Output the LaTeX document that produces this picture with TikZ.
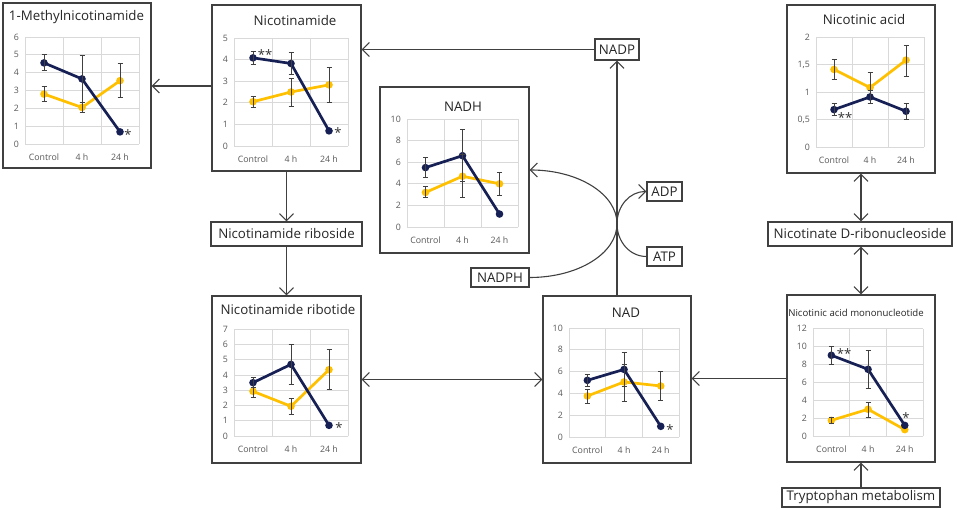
\documentclass[tikz,border=0pt]{standalone}
\usepackage{fontspec}
\setmainfont{Open Sans}
\usetikzlibrary{arrows.meta}
\definecolor{navy}{HTML}{172054}
\definecolor{gold}{HTML}{FFC000}
\definecolor{gridc}{HTML}{D9D9D9}
\definecolor{axisc}{HTML}{595959}
\definecolor{framec}{HTML}{404040}
\definecolor{errc}{HTML}{404040}
\tikzset{
  panel/.style={draw=framec, line width=1.3pt, inner sep=0pt, fill=white},
  lbox/.style={draw=framec, line width=1.2pt, inner sep=0pt, fill=white, font=\fontsize{13.3}{15}\selectfont, text=black!85},
  ttl/.style={font=\fontsize{13.3}{15}\selectfont, text=black!85, inner sep=0pt},
  conn/.style={draw=framec, line width=1.1pt, -{Straight Barb[length=7pt,width=14pt]}},
  dconn/.style={draw=framec, line width=1.1pt, {Straight Barb[length=7pt,width=14pt]}-{Straight Barb[length=7pt,width=14pt]}},
  gridl/.style={draw=gridc, line width=0.8pt},
  ylab/.style={font=\fontsize{8.8}{10}\selectfont, text=axisc, anchor=east, inner sep=0pt, xshift=-6pt},
  xlab/.style={font=\fontsize{8.8}{10}\selectfont, text=axisc, inner sep=0pt, yshift=-13pt},
  chart/.style n args={4}{shift={(#1pt,-#2pt)}, x=#3pt, y=#4pt},
  ser/.style={line width=2.7pt, line join=round},
  errb/.style={draw=errc, line width=0.8pt},
  star/.style={font=\fontsize{13}{14}\selectfont, text=black!80, inner sep=0pt},
}
\newcommand\cgrid[4]{%
  \foreach \v in {0,#3,...,#2} \draw[gridl] (0,\v) -- (3,\v);
  \foreach \c in {0,1,2,3} \draw[gridl] (\c,0) -- (\c,#2);
  \foreach \v/\t [count=\k] in {#4} \node[ylab] (#1-y\k) at (0,\v) {\t};
  \node[xlab] (#1-x1) at (0.5,0) {Control};
  \node[xlab] (#1-x2) at (1.5,0) {4 h};
  \node[xlab] (#1-x3) at (2.5,0) {24 h};
}
\newcommand\dser[4]{%
  \draw[ser, #1] (0.5,#2) -- (1.5,#3) -- (2.5,#4);
  \foreach \xx/\yy in {0.5/#2,1.5/#3,2.5/#4} \fill[#1] (\xx,\yy) circle[radius=3.8pt];
}
\newcommand\ebar[3]{%
  \draw[errb] (#1,#2) -- (#1,#3);
  \draw[errb] (#1,#2) ++(-2.5pt,0) -- ++(5pt,0);
  \draw[errb] (#1,#3) ++(-2.5pt,0) -- ++(5pt,0);
}
\begin{document}
\begin{tikzpicture}[x=1pt,y=-1pt]
\useasboundingbox (0,0) rectangle (957,510);
% ---------- panels
\node[panel, minimum width=148pt, minimum height=165pt] (mna) at (77,85.5) {};
\node[panel, minimum width=149pt, minimum height=166pt] (ncm) at (286.5,88) {};
\node[panel, minimum width=149pt, minimum height=166pt] (nadh) at (454.5,170) {};
\node[panel, minimum width=148pt, minimum height=168pt] (na) at (861,89) {};
\node[panel, minimum width=149pt, minimum height=167pt] (nmn) at (286.5,379.5) {};
\node[panel, minimum width=148pt, minimum height=167pt] (nad) at (617,379.5) {};
\node[panel, minimum width=148pt, minimum height=167pt] (namn) at (861,378.5) {};
% ---------- label boxes
\node[lbox, minimum width=151pt, minimum height=24pt] (nr) at (286.5,234) {Nicotinamide riboside};
\node[lbox, minimum width=184pt, minimum height=24pt] (ndr) at (860,234) {Nicotinate D-ribonucleoside};
\node[lbox, minimum width=44pt, minimum height=21pt] (nadp) at (617,49.5) {NADP};
\node[lbox, minimum width=35pt, minimum height=19pt] (adp) at (664.5,191.5) {ADP};
\node[lbox, minimum width=35pt, minimum height=19pt] (atp) at (664.5,256.5) {ATP};
\node[lbox, minimum width=58pt, minimum height=19pt] (nadph) at (500,277.5) {NADPH};
\node[lbox, minimum width=158pt, minimum height=19pt] (trp) at (861,497.5) {Tryptophan metabolism};
\coordinate (cross) at (617,223.75);
% ---------- connectors
\draw[conn] ([yshift=2pt]ncm.west) -- ([yshift=2pt]ncm.west -| mna.east);
\draw[conn] (nadp.west) -- (nadp.west -| ncm.east);
\draw[conn] (nad.north) -- (nadp.south);
\draw[conn] (ncm.south) -- (nr.north);
\draw[conn] (nr.south) -- (nmn.north);
\draw[dconn] (nmn.east) -- (nad.west);
\draw[conn] (namn.west) -- (namn.west -| nad.east);
\draw[dconn] (na.south) -- (na.south |- ndr.north);
\draw[dconn] (namn.north |- ndr.south) -- (namn.north);
\draw[conn] (trp.north) -- (namn.south);
\draw[conn] (nadph.east) .. controls +(48.6,0) and +(0,29.7) .. (cross) .. controls +(0,-29.7) and +(48.6,0) .. (nadh.east);
\draw[conn] (atp.west) .. controls +(-16.6,0) and +(0,17.95) .. (cross) .. controls +(0,-17.95) and +(-16.6,0) .. (adp.west);
% ---------- 1-Methylnicotinamide
\node[ttl] (mna-t) at (76.5,17) {1-Methylnicotinamide};
\begin{scope}[chart={25}{144}{38}{17.83}]
\cgrid{mna}{6}{1}{0/0,1/1,2/2,3/3,4/4,5/5,6/6}
\dser{gold}{2.8}{2.05}{3.55}
\dser{navy}{4.55}{3.65}{0.68}
\ebar{0.5}{2.4}{3.25}\ebar{0.5}{4.1}{5.0}
\ebar{1.5}{1.8}{2.35}\ebar{1.5}{2.35}{4.95}
\ebar{2.5}{2.6}{4.5}
\end{scope}
\node[star] (mna-s) at (128,135) {*};
% ---------- Nicotinamide
\node[ttl] (ncm-t) at (295,21) {Nicotinamide};
\begin{scope}[chart={234}{146}{38}{21.6}]
\cgrid{ncm}{5}{1}{0/0,1/1,2/2,3/3,4/4,5/5}
\dser{gold}{2.05}{2.5}{2.83}
\dser{navy}{4.08}{3.82}{0.7}
\ebar{0.5}{1.8}{2.3}\ebar{0.5}{3.78}{4.38}
\ebar{1.5}{1.85}{3.15}\ebar{1.5}{3.3}{4.35}
\ebar{2.5}{2.0}{3.65}
\end{scope}
\node[star] (ncm-s1) at (265,55) {**};
\node[star] (ncm-s2) at (338,133) {*};
% ---------- NADH
\node[ttl] (nadh-t) at (463,107) {NADH};
\begin{scope}[chart={407}{227}{37}{10.8}]
\cgrid{nadh}{10}{2}{0/0,2/2,4/4,6/6,8/8,10/10}
\dser{gold}{3.2}{4.7}{4.0}
\dser{navy}{5.5}{6.6}{1.2}
\ebar{0.5}{2.7}{3.8}\ebar{0.5}{4.6}{6.4}
\ebar{1.5}{2.7}{6.7}\ebar{1.5}{4.2}{9.0}
\ebar{2.5}{2.9}{5.1}
\end{scope}
% ---------- Nicotinic acid
\node[ttl] (na-t) at (864,20) {Nicotinic acid};
\begin{scope}[chart={816}{147}{36}{55}]
\cgrid{na}{2}{0.5}{0/0,0.5/{0,5},1/1,1.5/{1,5},2/2}
\dser{gold}{1.41}{1.08}{1.58}
\dser{navy}{0.68}{0.91}{0.65}
\ebar{0.5}{1.23}{1.6}\ebar{0.5}{0.58}{0.79}
\ebar{1.5}{0.8}{1.36}\ebar{1.5}{0.8}{1.03}
\ebar{2.5}{1.28}{1.84}\ebar{2.5}{0.5}{0.8}
\end{scope}
\node[star] (na-s) at (845,118) {**};
% ---------- Nicotinamide ribotide
\node[ttl] (nmn-t) at (288,310) {Nicotinamide ribotide};
\begin{scope}[chart={234}{436}{38}{15.24}]
\cgrid{nmn}{7}{1}{0/0,1/1,2/2,3/3,4/4,5/5,6/6,7/7}
\dser{gold}{2.93}{1.95}{4.35}
\dser{navy}{3.5}{4.7}{0.7}
\ebar{0.5}{2.55}{3.2}\ebar{0.5}{3.2}{3.83}
\ebar{1.5}{3.37}{6.0}\ebar{1.5}{1.45}{2.5}
\ebar{2.5}{3.05}{5.65}
\end{scope}
\node[star] (nmn-s) at (339,428) {*};
% ---------- NAD
\node[ttl] (nad-t) at (626,313) {NAD};
\begin{scope}[chart={569}{437}{36.7}{10.9}]
\cgrid{nad}{10}{2}{0/0,2/2,4/4,6/6,8/8,10/10}
\dser{gold}{3.76}{5.05}{4.68}
\dser{navy}{5.2}{6.2}{0.98}
\ebar{0.5}{3.12}{4.4}\ebar{0.5}{4.6}{5.75}
\ebar{1.5}{3.27}{6.7}\ebar{1.5}{4.65}{7.74}
\ebar{2.5}{3.36}{6.05}
\end{scope}
\node[star] (nad-s) at (670,430) {*};
% ---------- Nicotinic acid mononucleotide
\node[ttl, font=\fontsize{9.6}{11}\selectfont] (namn-t) at (856,313) {Nicotinic acid mononucleotide};
\begin{scope}[chart={813}{436}{36.7}{8.94}]
\cgrid{namn}{12}{2}{0/0,2/2,4/4,6/6,8/8,10/10,12/12}
\dser{gold}{1.75}{2.99}{0.71}
\dser{navy}{9.03}{7.46}{1.19}
\ebar{0.5}{1.4}{2.1}\ebar{0.5}{8.0}{10.0}
\ebar{1.5}{2.05}{3.8}\ebar{1.5}{5.37}{9.6}
\end{scope}
\node[star] (namn-s1) at (844,354) {**};
\node[star] (namn-s2) at (906,418) {*};
\end{tikzpicture}
\end{document}
